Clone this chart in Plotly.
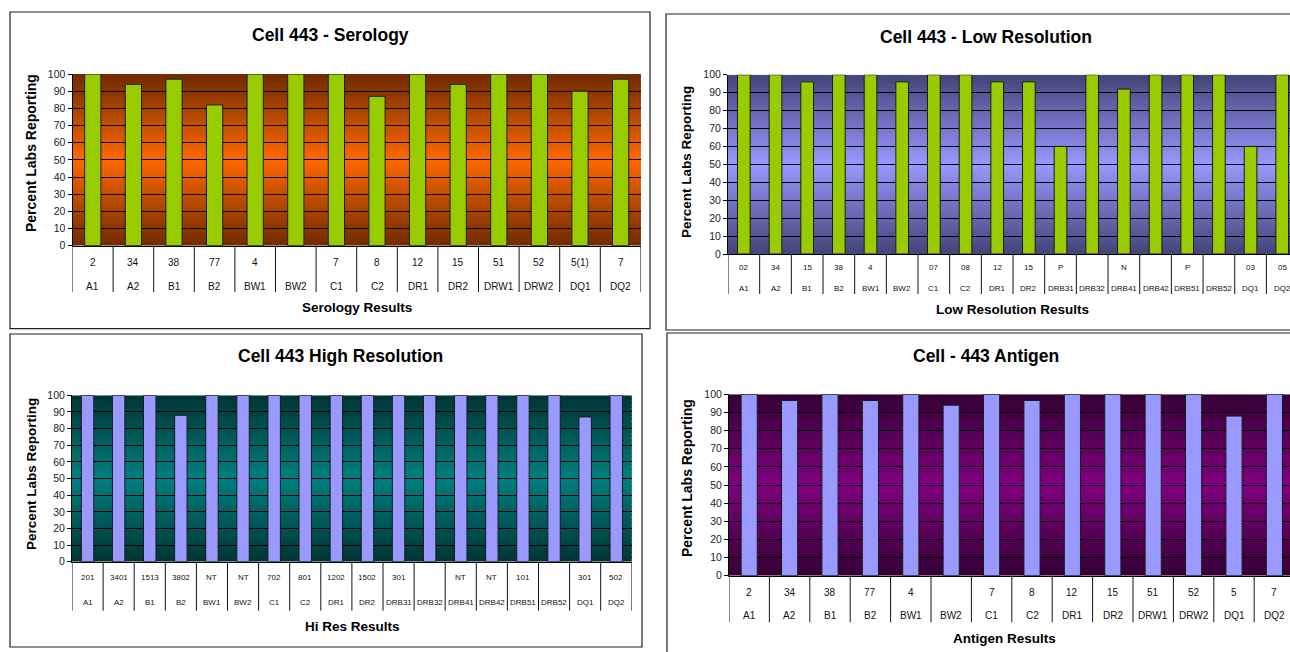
import plotly.graph_objects as go

W, H = 1290, 652
FONT = "Arial, 'Liberation Sans', sans-serif"

# ---------------- data ----------------
sero_loci = ["A1", "A2", "B1", "B2", "BW1", "BW2", "C1", "C2", "DR1", "DR2", "DRW1", "DRW2", "DQ1", "DQ2"]
sero_alleles = ["2", "34", "38", "77", "4", "", "7", "8", "12", "15", "51", "52", "5(1)", "7"]
sero_pct = [100, 94, 97, 82, 100, 100, 100, 87, 100, 94, 100, 100, 90, 97]

low_loci = ["A1", "A2", "B1", "B2", "BW1", "BW2", "C1", "C2", "DR1", "DR2",
            "DRB31", "DRB32", "DRB41", "DRB42", "DRB51", "DRB52", "DQ1", "DQ2"]
low_alleles = ["02", "34", "15", "38", "4", "", "07", "08", "12", "15", "P", "", "N", "", "P", "", "03", "05"]
low_pct = [100, 100, 96, 100, 100, 96, 100, 100, 96, 96, 60, 100, 92, 100, 100, 100, 60, 100]

hi_loci = ["A1", "A2", "B1", "B2", "BW1", "BW2", "C1", "C2", "DR1", "DR2",
           "DRB31", "DRB32", "DRB41", "DRB42", "DRB51", "DRB52", "DQ1", "DQ2"]
hi_alleles = ["201", "3401", "1513", "3802", "NT", "NT", "702", "801", "1202", "1502",
              "301", "", "NT", "NT", "101", "", "301", "502"]
hi_pct = [100, 100, 100, 88, 100, 100, 100, 100, 100, 100, 100, 100, 100, 100, 100, 100, 87, 100]

ag_loci = ["A1", "A2", "B1", "B2", "BW1", "BW2", "C1", "C2", "DR1", "DR2", "DRW1", "DRW2", "DQ1", "DQ2"]
ag_alleles = ["2", "34", "38", "77", "4", "", "7", "8", "12", "15", "51", "52", "5", "7"]
ag_pct = [100, 96.6, 100, 96.6, 100, 94, 100, 96.6, 100, 100, 100, 100, 88, 100]

y_ticks = list(range(0, 101, 10))


def px(x):
    return x / W


def py(y):
    return 1 - y / H


def mix(c1, c2, t):
    return "rgb(%d,%d,%d)" % tuple(round(a + (b - a) * t) for a, b in zip(c1, c2))


panels = [
    dict(loci=sero_loci, alleles=sero_alleles, pct=sero_pct,
         title="Cell 443 - Serology", xtitle="Serology Results",
         x0=72.5, step=40.6, ytop=74, ybot=245.7,
         row1=262.7, row2=286, line_end=292, label_size=10,
         bar="#99cc00", edge=(112, 42, 0), center=(255, 104, 0),
         box=(10, 12, 650, 328.7), title_xy=(330, 35), xtitle_xy=(357, 307),
         ytitle_xy=(31, 153), ytitle_size=14, xtitle_size=13.5),
    dict(loci=low_loci, alleles=low_alleles, pct=low_pct,
         title="Cell 443 - Low Resolution", xtitle="Low Resolution Results",
         x0=728, step=31.67, ytop=74.7, ybot=254,
         row1=267, row2=288, line_end=294, label_size=8,
         bar="#99cc00", edge=(68, 68, 120), center=(152, 152, 255),
         box=(666, 14, 1296, 330), title_xy=(986, 37), xtitle_xy=(1012, 309),
         ytitle_xy=(686, 162), ytitle_size=13.5, xtitle_size=13.5),
    dict(loci=hi_loci, alleles=hi_alleles, pct=hi_pct,
         title="Cell 443 High Resolution", xtitle="Hi Res Results",
         x0=72, step=31.1, ytop=395.3, ybot=561.8,
         row1=577.7, row2=602.3, line_end=610.7, label_size=8,
         bar="#9999ff", edge=(0, 52, 52), center=(0, 128, 128),
         box=(10, 334, 642, 647), title_xy=(340, 356), xtitle_xy=(353, 626),
         ytitle_xy=(31, 474), ytitle_size=13.5, xtitle_size=13.5),
    dict(loci=ag_loci, alleles=ag_alleles, pct=ag_pct,
         title="Cell - 443 Antigen", xtitle="Antigen Results",
         x0=729, step=40.4, ytop=394.3, ybot=575.7,
         row1=592.3, row2=615, line_end=622.3, label_size=10,
         bar="#9999ff", edge=(52, 0, 52), center=(128, 0, 128),
         box=(667, 333, 1296, 660), title_xy=(986, 356), xtitle_xy=(1004, 638),
         ytitle_xy=(687, 478), ytitle_size=14, xtitle_size=13.5),
]

fig = go.Figure()
shapes = []
annotations = []
layout_axes = {}

N_STRIPES = 40

for k, p in enumerate(panels, start=1):
    xa = "x" if k == 1 else "x%d" % k
    ya = "y" if k == 1 else "y%d" % k
    n = len(p["loci"])
    right_px = min(W, p["x0"] + n * p["step"])
    x_end = (right_px - p["x0"]) / p["step"] - 0.5

    fig.add_trace(go.Bar(
        x=p["loci"], y=p["pct"], xaxis=xa, yaxis=ya, width=0.4,
        marker=dict(color=p["bar"], line=dict(color="#1a1a1a", width=1)),
        showlegend=False, hoverinfo="x+y"))

    layout_axes["xaxis" + ("" if k == 1 else str(k))] = dict(
        domain=[px(p["x0"]), px(right_px)], anchor=ya, type="category",
        range=[-0.5, x_end], showticklabels=False, ticks="", showgrid=False,
        showline=True, linecolor="black", linewidth=1, zeroline=False,
        fixedrange=True, automargin=False)
    layout_axes["yaxis" + ("" if k == 1 else str(k))] = dict(
        domain=[py(p["ybot"]), py(p["ytop"])], anchor=xa, range=[0, 100],
        tickvals=y_ticks, showgrid=True, gridcolor="black", gridwidth=1,
        showline=True, linecolor="black", linewidth=1, ticks="outside", ticklen=4,
        tickcolor="black", tickfont=dict(family=FONT, size=10.5, color="#222"),
        zeroline=False, fixedrange=True, automargin=False)

    # gradient background (centre light, edges dark); stripes overlap to avoid seams
    for s in range(N_STRIPES):
        y0 = 100 * s / N_STRIPES
        y1 = 100 * (s + 1) / N_STRIPES
        t = abs((y0 + y1) / 2 - 50) / 50
        shapes.append(dict(type="rect", layer="below", xref=xa + " domain", yref=ya,
                           x0=0, x1=1, y0=y0, y1=min(100, y1 + 1.2), line=dict(width=0),
                           fillcolor=mix(p["center"], p["edge"], t)))

    # category table dividers
    for i in range(n + 1):
        shapes.append(dict(type="line", xref=xa, yref="paper", x0=i - 0.5, x1=i - 0.5,
                           y0=py(p["line_end"]), y1=py(p["ybot"]),
                           line=dict(color="#111", width=1)))

    # category labels (two rows)
    for loc, al in zip(p["loci"], p["alleles"]):
        if al:
            annotations.append(dict(x=loc, xref=xa, y=py(p["row1"]), yref="paper",
                                    text=al, showarrow=False, xanchor="center", yanchor="middle",
                                    font=dict(family=FONT, size=p["label_size"], color="#111")))
        annotations.append(dict(x=loc, xref=xa, y=py(p["row2"]), yref="paper",
                                text=loc, showarrow=False, xanchor="center", yanchor="middle",
                                font=dict(family=FONT, size=p["label_size"], color="#111")))

    # titles
    tx, ty = p["title_xy"]
    annotations.append(dict(x=px(tx), y=py(ty), xref="paper", yref="paper", text="<b>%s</b>" % p["title"],
                            showarrow=False, xanchor="center", yanchor="middle",
                            font=dict(family=FONT, size=17.5, color="black")))
    xx, xy = p["xtitle_xy"]
    annotations.append(dict(x=px(xx), y=py(xy), xref="paper", yref="paper", text="<b>%s</b>" % p["xtitle"],
                            showarrow=False, xanchor="center", yanchor="middle",
                            font=dict(family=FONT, size=p["xtitle_size"], color="black")))
    yx, yy = p["ytitle_xy"]
    annotations.append(dict(x=px(yx), y=py(yy), xref="paper", yref="paper",
                            text="<b>Percent Labs Reporting</b>", textangle=-90,
                            showarrow=False, xanchor="center", yanchor="middle",
                            font=dict(family=FONT, size=p["ytitle_size"], color="black")))

    # panel border
    bx0, by0, bx1, by1 = p["box"]
    shapes.append(dict(type="rect", xref="paper", yref="paper", layer="above",
                       x0=px(bx0), x1=px(bx1), y0=py(by1), y1=py(by0),
                       line=dict(color="#222", width=1.2), fillcolor="rgba(0,0,0,0)"))

fig.update_layout(
    width=W, height=H, margin=dict(l=0, r=0, t=0, b=0, autoexpand=False),
    paper_bgcolor="white", plot_bgcolor="rgba(0,0,0,0)",
    shapes=shapes, annotations=annotations, showlegend=False,
    font=dict(family=FONT), **layout_axes)

fig.write_html("out.html", config={"displayModeBar": False},
               post_script="document.body.style.margin='0';document.body.style.overflow='hidden';")
